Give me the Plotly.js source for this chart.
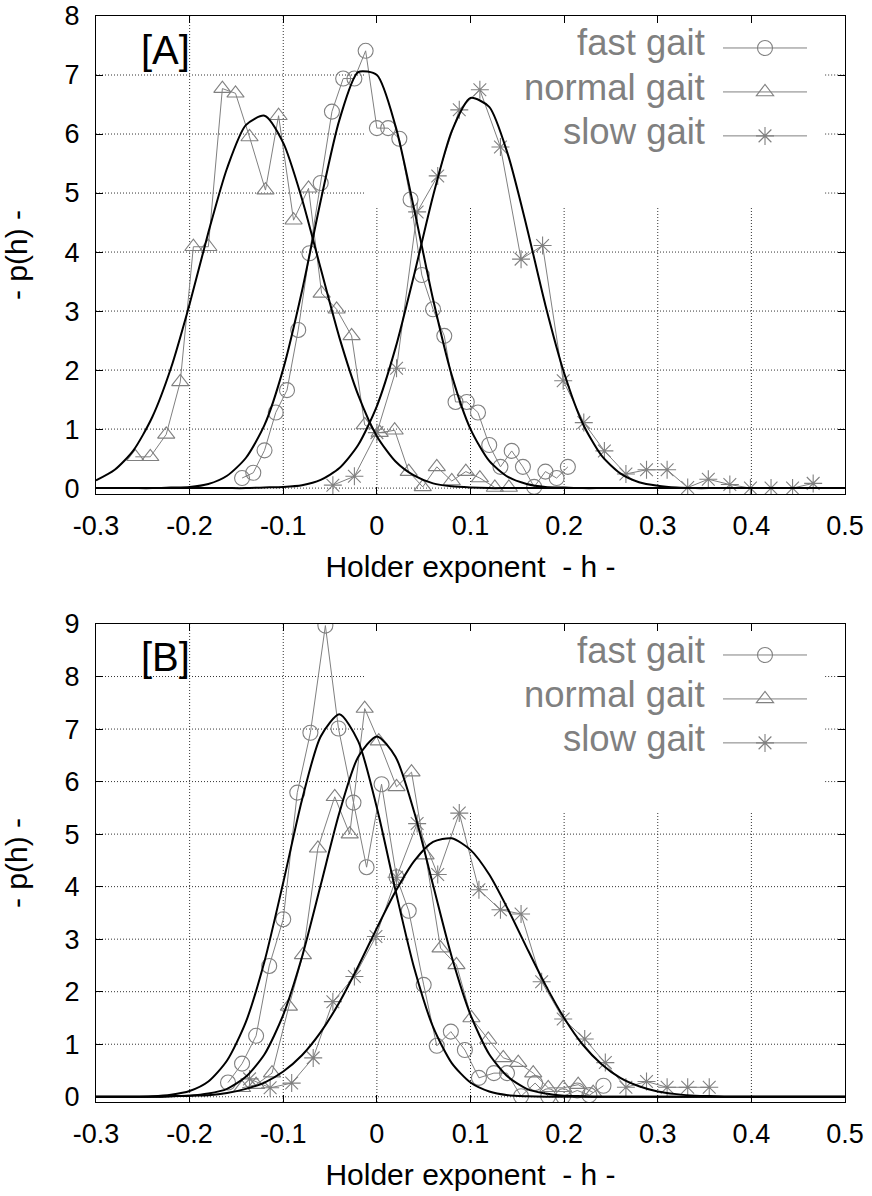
<!DOCTYPE html>
<html>
<head>
<meta charset="utf-8">
<script src="https://cdn.plot.ly/plotly-3.0.1.min.js"></script>
<style>html,body{margin:0;padding:0;background:#fff;}#chart{width:872px;height:1196px;}</style>
</head>
<body>
<div id="chart"></div>
<script>
// ---------- data ----------
const xTickVals = [-0.3, -0.2, -0.1, 0, 0.1, 0.2, 0.3, 0.4, 0.5];
const xTickText = ['-0.3', '-0.2', '-0.1', '0', '0.1', '0.2', '0.3', '0.4', '0.5'];
const yTickValsA = [0, 1, 2, 3, 4, 5, 6, 7, 8];
const yTickValsB = [0, 1, 2, 3, 4, 5, 6, 7, 8, 9];
const seriesNames = ['fast gait', 'normal gait', 'slow gait'];

// Panel A measured histograms
const hA_fast = [-0.144,-0.132,-0.120,-0.108,-0.096,-0.084,-0.072,-0.060,-0.048,-0.036,-0.024,-0.012,0.000,0.012,0.024,0.036,0.048,0.060,0.072,0.084,0.096,0.108,0.120,0.132,0.144,0.156,0.168,0.180,0.192,0.204];
const pA_fast = [0.17,0.26,0.64,1.28,1.66,2.68,3.98,5.17,6.38,6.94,6.94,7.41,6.10,6.10,5.92,4.89,3.61,3.03,2.58,1.46,1.46,1.28,0.73,0.36,0.63,0.36,0.02,0.28,0.17,0.36];

const hA_normal = [-0.258,-0.242,-0.225,-0.210,-0.196,-0.180,-0.165,-0.151,-0.136,-0.119,-0.105,-0.089,-0.073,-0.059,-0.043,-0.027,-0.013,0.003,0.019,0.034,0.049,0.064,0.080,0.095,0.110,0.126,0.141];
const pA_normal = [0.53,0.53,0.91,1.80,4.09,4.09,6.77,6.69,5.95,5.05,6.31,4.54,5.08,3.30,3.03,2.58,1.07,0.94,0.98,0.28,0.02,0.36,0.12,0.28,0.17,0.01,0.01];

const hA_slow = [-0.047,-0.024,0.000,0.021,0.043,0.065,0.088,0.110,0.132,0.154,0.177,0.199,0.221,0.243,0.266,0.288,0.310,0.332,0.354,0.377,0.399,0.421,0.444,0.466];
const pA_slow = [0.05,0.20,0.94,2.03,4.68,5.29,6.41,6.75,5.78,3.88,4.11,1.82,1.11,0.63,0.24,0.31,0.31,0.01,0.15,0.06,0.00,0.00,0.00,0.08];

// Panel B measured histograms
const hB_fast = [-0.159,-0.144,-0.129,-0.115,-0.100,-0.085,-0.071,-0.055,-0.041,-0.025,-0.011,0.005,0.021,0.034,0.050,0.064,0.079,0.094,0.109,0.125,0.139,0.154,0.169,0.183,0.199,0.214,0.227,0.242];
const pB_fast = [0.27,0.63,1.16,2.49,3.38,5.79,6.93,8.97,7.01,5.60,4.37,5.95,4.18,3.54,2.13,0.97,1.24,0.89,0.36,0.45,0.45,0.01,0.26,0.01,0.01,0.12,0.03,0.21];

const hB_normal = [-0.144,-0.129,-0.112,-0.094,-0.079,-0.063,-0.045,-0.029,-0.013,0.002,0.021,0.037,0.052,0.068,0.085,0.101,0.119,0.135,0.151,0.167,0.183,0.199,0.215,0.231];
const pB_normal = [0.17,0.23,0.45,1.72,2.70,4.73,5.71,5.00,7.39,6.77,5.90,6.18,4.60,2.83,2.51,1.50,1.09,0.74,0.65,0.45,0.17,0.17,0.23,0.08];

const hB_slow = [-0.136,-0.114,-0.091,-0.068,-0.047,-0.024,-0.001,0.021,0.043,0.065,0.088,0.109,0.132,0.154,0.176,0.199,0.222,0.244,0.266,0.288,0.310,0.332,0.355];
const pB_slow = [0.34,0.17,0.26,0.74,1.81,2.29,3.05,4.18,5.20,4.23,5.40,3.94,3.56,3.48,2.19,1.48,1.10,0.65,0.18,0.29,0.18,0.18,0.18];

// Fitted curves, values
const fitH = [-0.30,-0.28,-0.26,-0.24,-0.22,-0.20,-0.18,-0.16,-0.14,-0.12,-0.10,-0.08,-0.06,-0.04,-0.02,0.00,0.02,0.04,0.06,0.08,0.10,0.12,0.14,0.16,0.18,0.20,0.22,0.24,0.26,0.28,0.30,0.32,0.34,0.36,0.38,0.40,0.42,0.44,0.46,0.48,0.50];
const fitA_fast   = [0,0,0,0,0.01,0.02,0.07,0.21,0.51,1.07,2.02,3.34,4.87,6.24,7.05,7.00,6.13,4.71,3.20,1.91,1.00,0.46,0.19,0.07,0.02,0.01,0,0,0,0,0,0,0,0,0,0,0,0,0,0,0];
const fitA_normal = [0.13,0.31,0.64,1.20,2.03,3.12,4.33,5.42,6.15,6.31,5.85,4.90,3.72,2.55,1.58,0.88,0.45,0.21,0.08,0.03,0.01,0,0,0,0,0,0,0,0,0,0,0,0,0,0,0,0,0,0,0,0];
const fitA_slow   = [0,0,0,0,0,0,0,0,0,0.01,0.02,0.05,0.14,0.34,0.73,1.39,2.38,3.63,4.95,6.05,6.61,6.46,5.65,4.43,3.10,1.95,1.09,0.55,0.25,0.10,0.04,0.01,0,0,0,0,0,0,0,0,0];
const fitB_fast   = [0,0,0,0.01,0.04,0.11,0.29,0.69,1.42,2.58,4.08,5.65,6.86,7.28,6.77,5.50,3.92,2.44,1.33,0.64,0.27,0.10,0.03,0.01,0,0,0,0,0,0,0,0,0,0,0,0,0,0,0,0,0];
const fitB_normal = [0,0,0,0,0.01,0.02,0.06,0.15,0.38,0.81,1.56,2.66,4.03,5.41,6.47,6.86,6.47,5.41,4.03,2.66,1.56,0.81,0.38,0.15,0.06,0.02,0.01,0,0,0,0,0,0,0,0,0,0,0,0,0,0];
const fitB_slow   = [0,0,0,0,0.01,0.02,0.03,0.07,0.15,0.27,0.48,0.79,1.23,1.80,2.48,3.21,3.91,4.49,4.85,4.92,4.70,4.23,3.57,2.84,2.13,1.50,0.99,0.62,0.36,0.20,0.10,0.05,0.02,0.01,0,0,0,0,0,0,0];

// ---------- styling ----------
const GREY = '#808080';
const FONT = 'Liberation Sans, Arial, Helvetica, sans-serif';
const symbols = ['circle-open', 'triangle-up-open', 'asterisk-open'];
const X_MIN = -0.3, X_MAX = 0.5, Y_MIN = -0.1;

function dataTrace(h, p, i, xa, ya, leg) {
  return {
    x: h, y: p, xaxis: xa, yaxis: ya, type: 'scatter', mode: 'lines+markers',
    name: '', legend: leg, showlegend: true,
    line: {color: GREY, width: 1},
    marker: {symbol: symbols[i], size: 15, color: GREY, line: {color: GREY, width: 1.1}},
    hoverinfo: 'skip'
  };
}
function fitTrace(y, xa, ya) {
  return {
    x: fitH, y: y, xaxis: xa, yaxis: ya, type: 'scatter', mode: 'lines',
    showlegend: false, line: {color: '#000', width: 2, shape: 'spline', smoothing: 0.7},
    hoverinfo: 'skip'
  };
}

const traces = [
  dataTrace(hA_fast, pA_fast, 0, 'x2', 'y2', 'legend'),
  dataTrace(hA_normal, pA_normal, 1, 'x2', 'y2', 'legend'),
  dataTrace(hA_slow, pA_slow, 2, 'x2', 'y2', 'legend'),
  fitTrace(fitA_fast, 'x2', 'y2'),
  fitTrace(fitA_normal, 'x2', 'y2'),
  fitTrace(fitA_slow, 'x2', 'y2'),
  dataTrace(hB_fast, pB_fast, 0, 'x', 'y', 'legend2'),
  dataTrace(hB_normal, pB_normal, 1, 'x', 'y', 'legend2'),
  dataTrace(hB_slow, pB_slow, 2, 'x', 'y', 'legend2'),
  fitTrace(fitB_fast, 'x', 'y'),
  fitTrace(fitB_normal, 'x', 'y'),
  fitTrace(fitB_slow, 'x', 'y')
];

const tickFont = {family: FONT, size: 27, color: '#000'};
const titleFont = {family: FONT, size: 30, color: '#000'};
function xAxis(anchor) {
  return {
    anchor: anchor, domain: [0, 1], range: [X_MIN, X_MAX],
    tickmode: 'array', tickvals: xTickVals, ticktext: xTickText,
    ticks: 'inside', ticklen: 7, tickcolor: '#000', tickwidth: 1,
    showline: true, linecolor: '#000', linewidth: 1, mirror: 'ticks',
    showgrid: false, zeroline: false, tickfont: tickFont, ticklabelstandoff: 8,
    title: {text: 'Holder exponent  - h -', font: titleFont, standoff: 15}
  };
}
function yAxis(anchor, dom, top, vals) {
  return {
    anchor: anchor, domain: dom, range: [Y_MIN, top],
    tickmode: 'array', tickvals: vals, ticktext: vals.map(String),
    ticks: 'inside', ticklen: 7, tickcolor: '#000', tickwidth: 1,
    showline: true, linecolor: '#000', linewidth: 1, mirror: 'ticks',
    showgrid: false, zeroline: false, tickfont: tickFont, ticklabelstandoff: 10,
    title: {text: '- p(h) -', font: titleFont, standoff: 30}
  };
}

const H = 1086; // plot-area height (1196 - t - b)
const py = px => 1 - (px - 16) / H;          // pixel row -> paper y
const pxX = px => (px - 96) / 749;           // pixel col -> paper x

// Dotted grid, interrupted behind the (opaque) key box as in the original
const KEY_X0 = -0.0126, KEY_X1 = 0.4788;
function gridShapes(xa, ya, yTop, yVals, keyBottom) {
  const s = [];
  const st = {color: '#333', width: 1, dash: '1px,2px'};
  xTickVals.forEach(v => {
    if (v <= X_MIN || v >= X_MAX) return;
    const inKey = v >= KEY_X0 && v <= KEY_X1;
    s.push({type: 'line', xref: xa, yref: ya, x0: v, x1: v, y0: Y_MIN, y1: inKey ? keyBottom : yTop, line: st, layer: 'below'});
  });
  yVals.forEach(v => {
    if (v >= yTop) return;
    if (v >= keyBottom) {
      s.push({type: 'line', xref: xa, yref: ya, x0: X_MIN, x1: KEY_X0, y0: v, y1: v, line: st, layer: 'below'});
      s.push({type: 'line', xref: xa, yref: ya, x0: KEY_X1, x1: X_MAX, y0: v, y1: v, line: st, layer: 'below'});
    } else {
      s.push({type: 'line', xref: xa, yref: ya, x0: X_MIN, x1: X_MAX, y0: v, y1: v, line: st, layer: 'below'});
    }
  });
  return s;
}

const legendCommon = {
  xanchor: 'left', yanchor: 'top', itemwidth: 84,
  font: {family: FONT, size: 31.5, color: GREY},
  bgcolor: 'rgba(0,0,0,0)', borderwidth: 0, traceorder: 'normal', tracegroupgap: 0
};

const legendText = (row, yPx) => ({
  xref: 'paper', yref: 'paper', x: pxX(707), y: py(yPx), xanchor: 'right', yanchor: 'middle',
  text: seriesNames[row], showarrow: false, font: {family: FONT, size: 36.5, color: GREY}
});

const layout = {
  width: 872, height: 1196,
  margin: {l: 96, r: 27, t: 16, b: 94},
  paper_bgcolor: '#fff', plot_bgcolor: '#fff',
  showlegend: true,
  xaxis: xAxis('y'),
  yaxis: yAxis('x', [0, 478 / H], 9, yTickValsB),
  xaxis2: xAxis('y2'),
  yaxis2: yAxis('x2', [1 - 478 / H, 1], 8, yTickValsA),
  legend: Object.assign({x: pxX(718), y: py(21)}, legendCommon),
  legend2: Object.assign({x: pxX(718), y: py(628)}, legendCommon),
  shapes: gridShapes('x2', 'y2', 8, yTickValsA, 4.76).concat(gridShapes('x', 'y', 9, yTickValsB, 5.42)),
  annotations: [
    {xref: 'paper', yref: 'paper', x: pxX(139), y: py(50), xanchor: 'left', yanchor: 'middle',
     text: '[A]', showarrow: false, font: {family: FONT, size: 40, color: '#000'}},
    {xref: 'paper', yref: 'paper', x: pxX(139), y: py(657), xanchor: 'left', yanchor: 'middle',
     text: '[B]', showarrow: false, font: {family: FONT, size: 40, color: '#000'}},
    legendText(0, 43), legendText(1, 87), legendText(2, 131),
    legendText(0, 650), legendText(1, 694), legendText(2, 738)
  ]
};

Plotly.newPlot('chart', traces, layout, {staticPlot: true, displayModeBar: false});
</script>
</body>
</html>
